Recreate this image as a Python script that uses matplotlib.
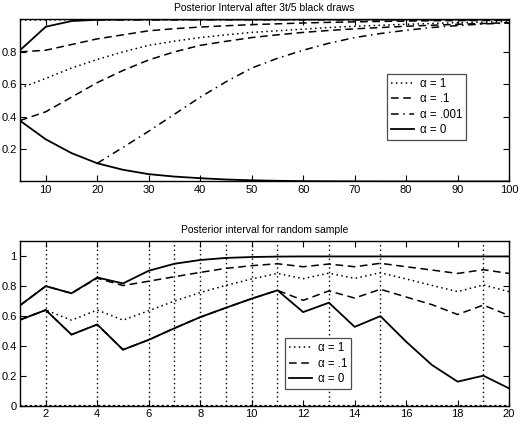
"""Posterior interval plots, redrawn in matplotlib."""

import numpy as np
import matplotlib

matplotlib.use("Agg")
import matplotlib.pyplot as plt

plt.rcParams["font.family"] = ["Liberation Sans", "DejaVu Sans"]
plt.rcParams["font.size"] = 8

nan = np.nan

# top panel: posterior interval after 3t/5 black draws
t_top = [5, 10, 15, 20, 25, 30, 35, 40, 45, 50, 55, 60, 65, 70, 75, 80, 85, 90, 95, 100]
a1_low = [0.575, 0.636, 0.70, 0.753, 0.80, 0.84, 0.866, 0.888, 0.905, 0.92,
          0.93, 0.94, 0.95, 0.958, 0.964, 0.97, 0.975, 0.98, 0.984, 0.988]
a1_up = [0.996, 0.997, 0.998, 0.998, 0.998, 0.999, 0.999, 0.999, 0.999, 0.999,
         0.999, 0.999, 0.999, 0.999, 0.999, 0.999, 0.999, 0.999, 0.999, 0.999]
a01_low = [0.376, 0.43, 0.52, 0.61, 0.685, 0.75, 0.80, 0.84, 0.865, 0.888,
           0.905, 0.92, 0.932, 0.942, 0.95, 0.958, 0.964, 0.97, 0.975, 0.98]
a01_up = [0.80, 0.81, 0.845, 0.88, 0.905, 0.93, 0.943, 0.953, 0.961, 0.968,
          0.973, 0.978, 0.982, 0.985, 0.988, 0.99, 0.992, 0.993, 0.994, 0.995]
a001_low = [nan, nan, nan, 0.112, 0.21, 0.31, 0.415, 0.52, 0.615, 0.70,
            0.76, 0.81, 0.853, 0.888, 0.913, 0.933, 0.95, 0.962, 0.972, 0.978]
a001_up = [nan, nan, nan, 0.997, 0.997, 0.997, 0.997, 0.998, 0.998, 0.998,
           0.998, 0.998, 0.998, 0.998, 0.998, 0.998, 0.998, 0.998, 0.998, 0.998]
a0_low = [0.375, 0.26, 0.175, 0.112, 0.072, 0.045, 0.03, 0.02, 0.012, 0.007,
          0.004, 0.002, 0.001, 0.0005, 0.0, 0.0, 0.0, 0.0, 0.0, 0.0]
a0_up = [0.81, 0.955, 0.99, 0.998, 1.0, 1.0, 1.0, 1.0, 1.0, 1.0,
         1.0, 1.0, 1.0, 1.0, 1.0, 1.0, 1.0, 1.0, 1.0, 1.0]

# bottom panel: random sample
n_bot = list(range(1, 21))
black_draws = [2, 4, 6, 7, 8, 9, 10, 11, 13, 15, 19]
r1 = [0.574, 0.64, 0.572, 0.64, 0.572, 0.635, 0.70, 0.757, 0.805, 0.848,
      0.885, 0.85, 0.887, 0.852, 0.89, 0.848, 0.805, 0.763, 0.808, 0.763]
r01_up = [0.671, 0.80, 0.752, 0.853, 0.804, 0.833, 0.863, 0.892, 0.919, 0.937,
          0.95, 0.93, 0.948, 0.93, 0.953, 0.93, 0.908, 0.885, 0.91, 0.885]
r01_low = [0.574, 0.64, 0.475, 0.543, 0.374, 0.44, 0.518, 0.592, 0.655, 0.716,
           0.772, 0.705, 0.768, 0.72, 0.779, 0.727, 0.676, 0.61, 0.673, 0.603]
r0_up = [0.671, 0.80, 0.752, 0.858, 0.818, 0.903, 0.95, 0.975, 0.989, 0.995,
         0.998, 0.999, 0.999, 0.999, 0.999, 0.999, 0.999, 0.999, 0.999, 0.999]
r0_low = [0.574, 0.64, 0.475, 0.543, 0.374, 0.44, 0.518, 0.592, 0.655, 0.716,
          0.772, 0.626, 0.689, 0.527, 0.599, 0.428, 0.272, 0.16, 0.2, 0.115]

DOT = (0, (1, 2.2))
DASH = (0, (5, 3))
DASHDOT = (0, (5, 3, 1, 3))
LW = 1.1

LEGEND_KW = dict(fontsize=8.3, fancybox=False, edgecolor="0.3", framealpha=1,
                 handlelength=2.0, borderpad=0.35, labelspacing=0.3,
                 handletextpad=0.5, borderaxespad=0)


def style_axes(ax):
    ax.tick_params(direction="in", top=True, right=True, length=4, width=0.8,
                   labelsize=8, pad=2.5)
    for s in ax.spines.values():
        s.set_linewidth(1.0)


fig = plt.figure(figsize=(5.2, 4.32), dpi=100)

ax1 = fig.add_axes([0.0385, 0.580, 0.9405, 0.375])
ax1.plot(t_top, a1_low, color="k", ls=DOT, lw=LW, label="α = 1")
ax1.plot(t_top, a1_up, color="k", ls=DOT, lw=LW)
ax1.plot(t_top, a01_low, color="k", ls=DASH, lw=LW, label="α = .1")
ax1.plot(t_top, a01_up, color="k", ls=DASH, lw=LW)
ax1.plot(t_top, a001_low, color="k", ls=DASHDOT, lw=LW, label="α = .001")
ax1.plot(t_top, a001_up, color="k", ls=DASHDOT, lw=LW)
ax1.plot(t_top, a0_low, color="k", ls="-", lw=1.3, label="α = 0")
ax1.plot(t_top, a0_up, color="k", ls="-", lw=1.3)
ax1.set_xlim(5, 100)
ax1.set_ylim(0, 1)
ax1.set_xticks(range(10, 101, 10))
ax1.set_yticks([0.2, 0.4, 0.6, 0.8])
ax1.set_title("Posterior Interval after 3t/5 black draws", fontsize=7.5, pad=6)
style_axes(ax1)
leg1 = ax1.legend(loc="upper left", bbox_to_anchor=(0.75, 0.665), **LEGEND_KW)
leg1.get_frame().set_linewidth(0.9)

ax2 = fig.add_axes([0.0385, 0.0613, 0.9405, 0.380])
ax2.vlines(black_draws, 0, 1.1, colors="k", linestyles=DOT, lw=1.0)
ax2.axhline(0, color="k", ls=(0, (1, 1.2)), lw=1.6)
ax2.plot(n_bot, r1, color="k", ls=DOT, lw=LW, label="α = 1")
ax2.plot(n_bot, r01_up, color="k", ls=DASH, lw=LW, label="α = .1")
ax2.plot(n_bot, r01_low, color="k", ls=DASH, lw=LW)
ax2.plot(n_bot, r0_up, color="k", ls="-", lw=1.3, label="α = 0")
ax2.plot(n_bot, r0_low, color="k", ls="-", lw=1.3)
ax2.set_xlim(1, 20)
ax2.set_ylim(0, 1.1)
ax2.set_xticks(range(2, 21, 2))
ax2.set_yticks([0, 0.2, 0.4, 0.6, 0.8, 1])
ax2.set_yticklabels(["0", "0.2", "0.4", "0.6", "0.8", "1"])
ax2.set_title("Posterior interval for random sample", fontsize=7.5, pad=6)
style_axes(ax2)
leg2 = ax2.legend(loc="upper left", bbox_to_anchor=(0.542, 0.41), **LEGEND_KW)
leg2.get_frame().set_linewidth(0.9)

fig.savefig("out.png", dpi=100)
